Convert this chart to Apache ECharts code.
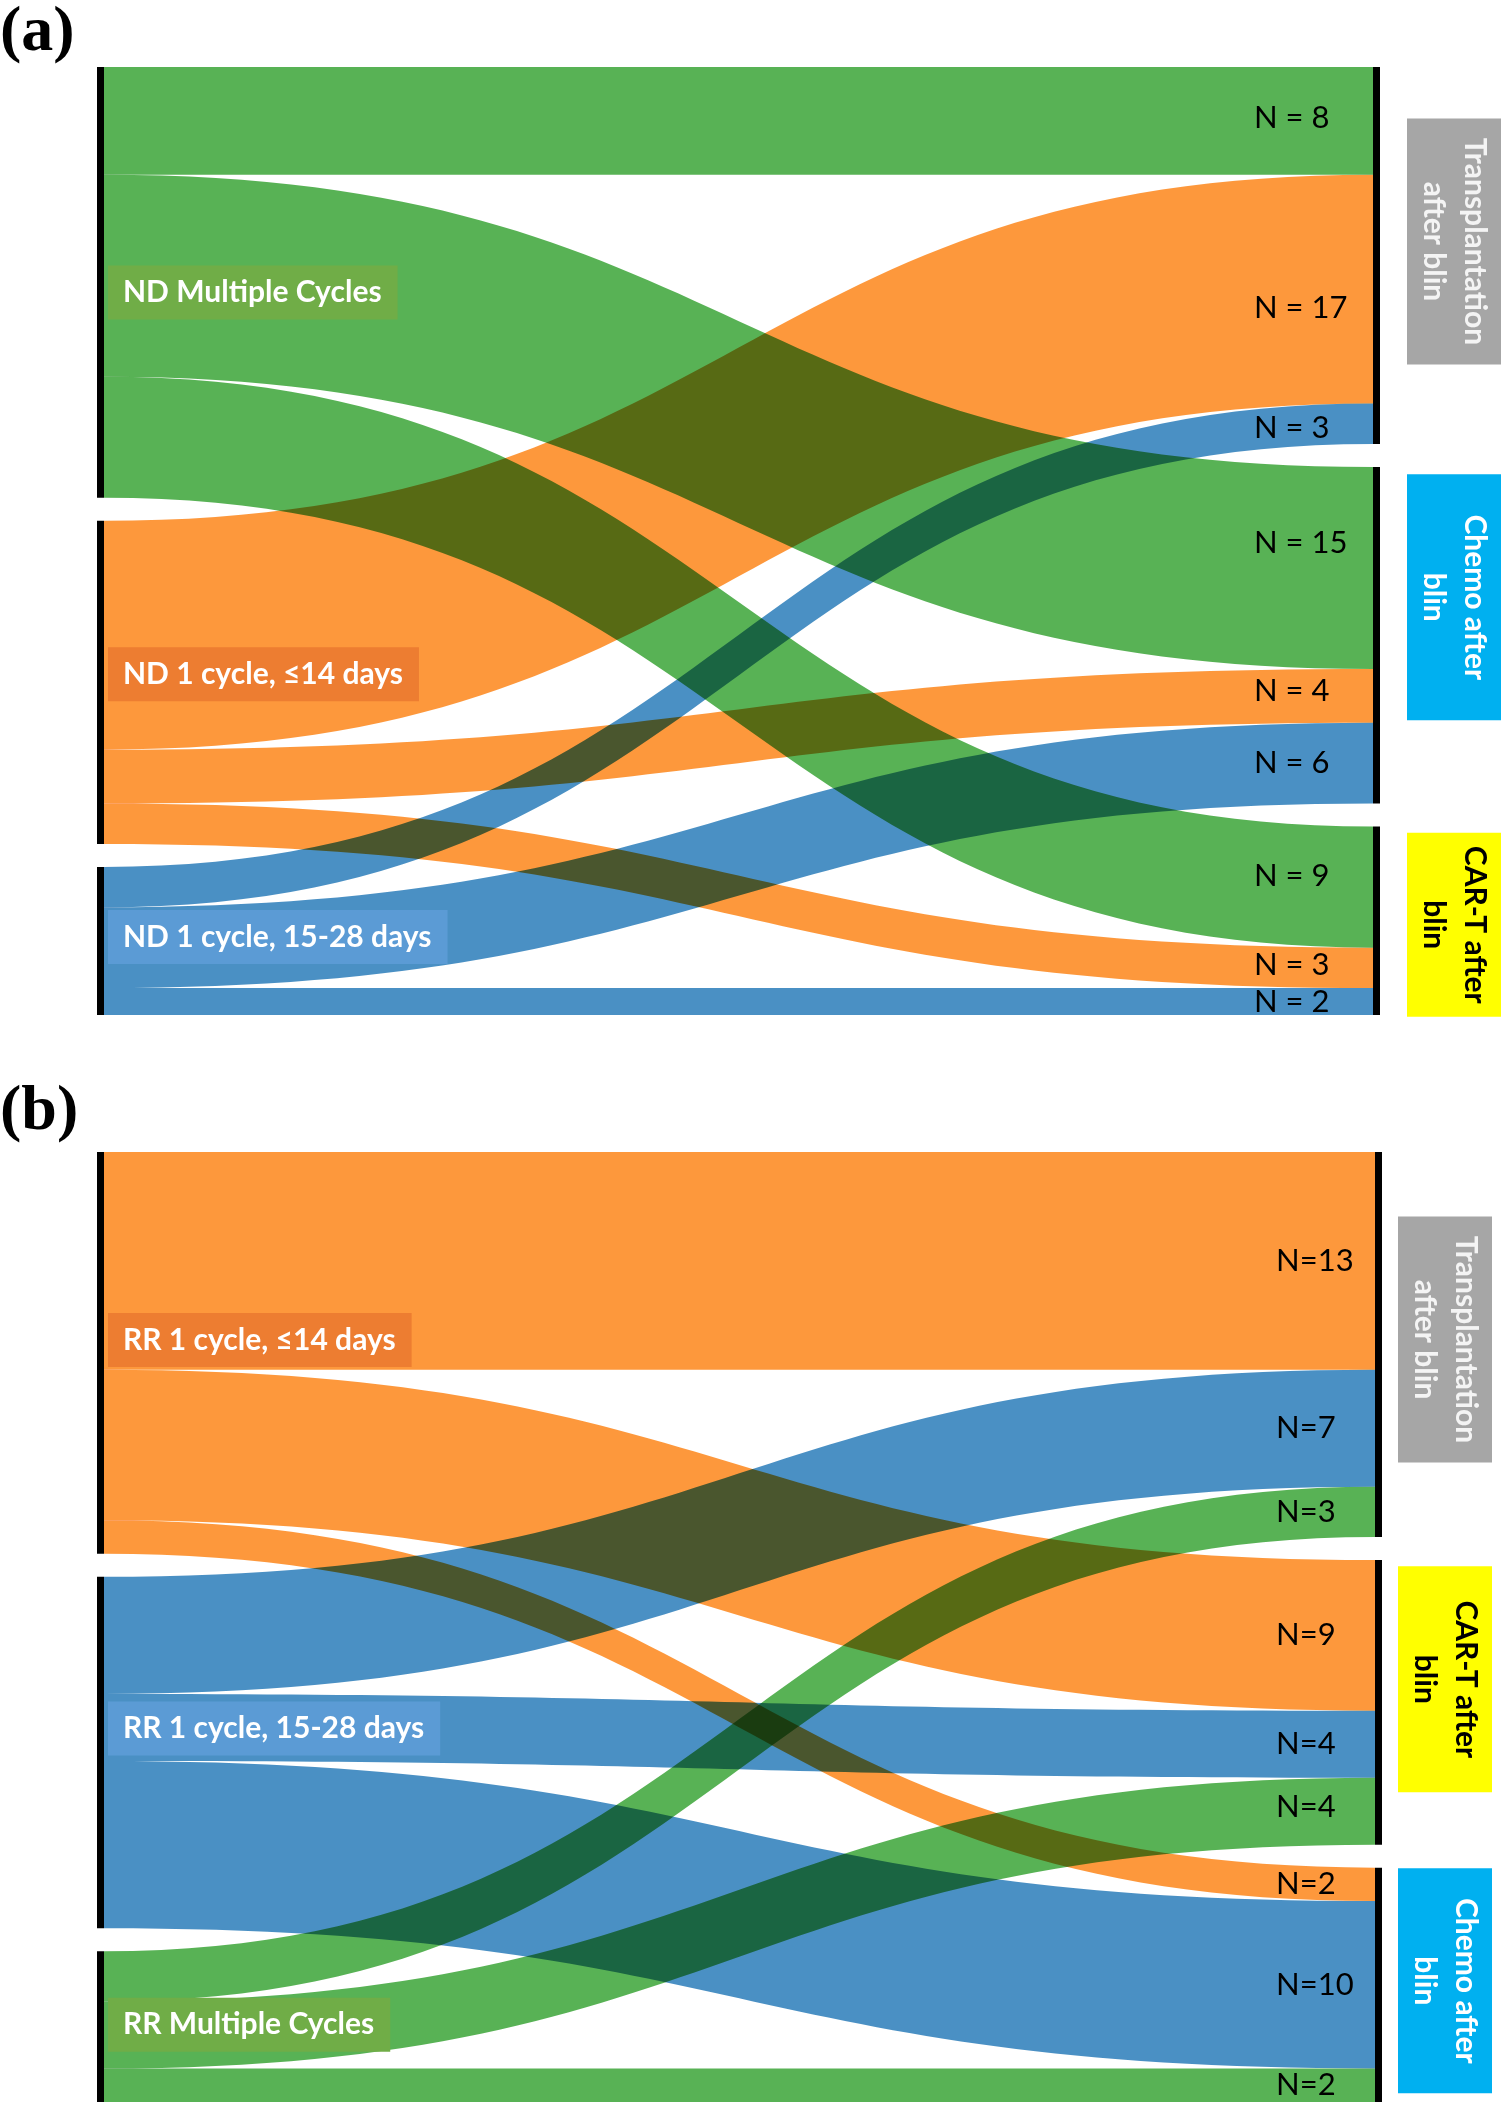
<!DOCTYPE html>
<html>
<head>
<meta charset="utf-8">
<script src="https://cdn.jsdelivr.net/npm/echarts@6/dist/echarts.min.js"></script>
<style>
html,body{margin:0;padding:0;background:#fff;}
#chart{width:1502px;height:2108px;}
</style>
</head>
<body>
<div id="chart"></div>
<script>
// ---------------- DATA ----------------
// Panel (a): newly diagnosed
const sourcesA = ['ND Multiple Cycles', 'ND 1 cycle, ≤14 days', 'ND 1 cycle, 15-28 days'];
const targetsA = ['Transplantation after blin', 'Chemo after blin', 'CAR-T after blin'];
const targetLabelsA = ['Transplantation\nafter blin', 'Chemo after\nblin', 'CAR-T after\nblin'];
// flowsA[i][j] = patients from sourcesA[i] to targetsA[j]
const flowsA = [
  [8, 15, 9],
  [17, 4, 3],
  [3, 6, 2]
];

// Panel (b): relapsed / refractory
const sourcesB = ['RR 1 cycle, ≤14 days', 'RR 1 cycle, 15-28 days', 'RR Multiple Cycles'];
const targetsB = ['Transplantation after blin', 'CAR-T after blin', 'Chemo after blin'];
const targetLabelsB = ['Transplantation\nafter blin', 'CAR-T after\nblin', 'Chemo after\nblin'];
const flowsB = [
  [13, 9, 2],
  [7, 4, 10],
  [3, 4, 2]
];

const panelTitles = ['(a)', '(b)'];

// ---------------- STYLES ----------------
const GREEN = '#58B255', ORANGE = '#FD983C', BLUE = '#4A90C4';
const linkColorBySource = {
  'ND Multiple Cycles': GREEN, 'ND 1 cycle, ≤14 days': ORANGE, 'ND 1 cycle, 15-28 days': BLUE,
  'RR Multiple Cycles': GREEN, 'RR 1 cycle, ≤14 days': ORANGE, 'RR 1 cycle, 15-28 days': BLUE
};
const sourceBoxColor = {
  'ND Multiple Cycles': '#70AD47', 'ND 1 cycle, ≤14 days': '#ED7D31', 'ND 1 cycle, 15-28 days': '#5B9BD5',
  'RR Multiple Cycles': '#70AD47', 'RR 1 cycle, ≤14 days': '#ED7D31', 'RR 1 cycle, 15-28 days': '#5B9BD5'
};
const targetBoxStyle = {
  'Transplantation after blin': { bg: '#A6A6A6', fg: '#F4F4F4' },
  'Chemo after blin': { bg: '#00B0F0', fg: '#FFFFFF' },
  'CAR-T after blin': { bg: '#FFFF00', fg: '#000000' }
};

const panelStyles = [
  {
    box: { left: 97, top: 67, width: 1283, height: 948 },
    nFormat: v => 'N = ' + v,
    nLabelDx: -119,
    // per link (source-major order) vertical nudge of the N label
    nLabelDy: [-3, -25, -11, 19, -5, -3, 4, 0, 0],
    srcLabelDy: [10, -8, -4],
    tgtBoxDy: [-14, -38, 4],
    tgtBoxLen: [246, 246, 184],
    tgtBoxDx: 27,
    titleY: 33
  },
  {
    box: { left: 97, top: 1152, width: 1285, height: 950 },
    nFormat: v => 'N=' + v,
    nLabelDx: -99,
    nLabelDy: [0, 0, 0, 0, 0, 0, 0, -4, 0],
    srcLabelDy: [-13, -24, -2],
    tgtBoxDy: [-5, -23, -4],
    tgtBoxLen: [246, 226, 225],
    tgtBoxDx: 16,
    titleY: 1112
  }
];

const panels = [
  { sources: sourcesA, targets: targetsA, targetLabels: targetLabelsA, flows: flowsA },
  { sources: sourcesB, targets: targetsB, targetLabels: targetLabelsB, flows: flowsB }
];

// ---------------- BUILD ----------------
const chart = echarts.init(document.getElementById('chart'), null, { renderer: 'canvas' });

function buildSeries(p, s) {
  const nodes = p.sources.concat(p.targets).map(n => ({ name: n }));
  const links = [];
  p.sources.forEach((src, i) => {
    p.targets.forEach((tgt, j) => {
      links.push({ source: src, target: tgt, value: p.flows[i][j], lineStyle: { color: linkColorBySource[src] } });
    });
  });
  return {
    type: 'sankey',
    left: s.box.left, top: s.box.top, width: s.box.width, height: s.box.height,
    orient: 'horizontal',
    nodeWidth: 7,
    nodeGap: 23,
    layoutIterations: 0,
    draggable: false,
    silent: true,
    animation: false,
    blendMode: 'multiply',
    emphasis: { disabled: true },
    label: { show: false },
    itemStyle: { color: '#000', borderWidth: 0 },
    lineStyle: { curveness: 0.5, opacity: 1 },
    data: nodes,
    links: links
  };
}

chart.setOption({
  backgroundColor: '#ffffff',
  animation: false,
  series: panels.map((p, k) => buildSeries(p, panelStyles[k]))
});

// ---------------- LABELS from the library's own layout ----------------
function labelsFor(k) {
  const p = panels[k], s = panelStyles[k];
  const sm = chart.getModel().getSeriesByIndex(k);
  const graph = sm.getGraph();
  const li = sm.layoutInfo || { x: s.box.left, y: s.box.top };
  const els = [];
  graph.nodes.forEach(node => {
    const l = node.getLayout();
    const name = graph.data.getName(node.dataIndex);
    const x0 = li.x + l.x, y0 = li.y + l.y;
    const si = p.sources.indexOf(name);
    if (si >= 0) {
      els.push({
        type: 'text', z: 100, silent: true,
        x: x0 + l.dx + 4, y: y0 + l.dy / 2 + s.srcLabelDy[si],
        style: {
          text: name, fill: '#fff', font: 'bold 30px Lato, "Open Sans", sans-serif',
          align: 'left', verticalAlign: 'middle', lineHeight: 30,
          backgroundColor: sourceBoxColor[name], padding: [12, 16, 12, 15]
        }
      });
    }
    const ti = p.targets.indexOf(name);
    if (ti >= 0) {
      const st = targetBoxStyle[name];
      els.push({
        type: 'text', z: 100, silent: true,
        x: x0 + l.dx + s.tgtBoxDx + 47, y: y0 + l.dy / 2 + s.tgtBoxDy[ti],
        rotation: -Math.PI / 2,
        style: {
          text: p.targetLabels[ti], fill: st.fg, font: 'bold 30px Lato, "Open Sans", sans-serif',
          align: 'center', verticalAlign: 'middle', lineHeight: 41,
          backgroundColor: st.bg, width: s.tgtBoxLen[ti], height: 94
        }
      });
    }
  });
  graph.edges.forEach(edge => {
    const el = edge.getLayout();
    const t = edge.node2.getLayout();
    const v = edge.getValue();
    const srcName = graph.data.getName(edge.node1.dataIndex);
    const tgtName = graph.data.getName(edge.node2.dataIndex);
    const idx = p.sources.indexOf(srcName) * p.targets.length + p.targets.indexOf(tgtName);
    els.push({
      type: 'text', z: 100, silent: true,
      x: li.x + t.x + s.nLabelDx, y: li.y + t.y + el.ty + el.dy / 2 + (s.nLabelDy[idx] || 0),
      style: {
        text: s.nFormat(v), fill: '#000', font: '31px Lato, "Open Sans", sans-serif',
        align: 'left', verticalAlign: 'middle'
      }
    });
  });
  els.push({
    type: 'text', z: 100, silent: true, x: 0, y: s.titleY,
    style: {
      text: panelTitles[k], fill: '#000', font: 'bold 64px "Liberation Serif", "Times New Roman", serif',
      align: 'left', verticalAlign: 'middle'
    }
  });
  return els;
}

let graphics = [];
try {
  graphics = labelsFor(0).concat(labelsFor(1));
} catch (e) {
  console.error(e);
}
chart.setOption({ graphic: { elements: graphics } });
</script>
</body>
</html>
